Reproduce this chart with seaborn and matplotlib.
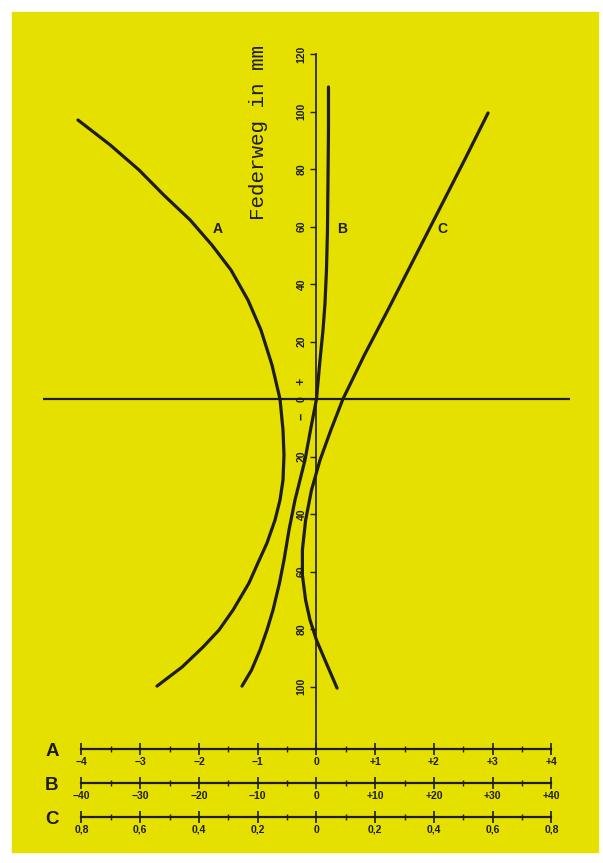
import numpy as np
import pandas as pd
import matplotlib
matplotlib.use("Agg")
import matplotlib.pyplot as plt
from matplotlib.patches import Rectangle
import seaborn as sns

# spring travel (mm) and the value of each curve
A_TRAVEL = [97.04, 88.35, 79.65, 70.96, 62.26, 53.57, 44.87, 34.43, 24.0, 11.83,
            0.0, -10.78, -19.48, -28.17, -35.13, -42.09, -50.09, -57.74, -64.0,
            -73.39, -80.35, -86.26, -93.22, -99.83]
A_VALUE = [-4.06, -3.51, -3.02, -2.60, -2.15, -1.78, -1.455, -1.166, -0.945, -0.757,
           -0.621, -0.570, -0.553, -0.570, -0.621, -0.706, -0.843, -1.013, -1.149,
           -1.421, -1.660, -1.932, -2.289, -2.715]

B_TRAVEL = [108.52, 93.57, 76.17, 58.78, 44.87, 33.39, 24.0, 13.57, 0.0, -10.78,
            -21.22, -35.13, -45.57, -56.0, -64.0, -73.39, -80.35, -87.3, -94.26,
            -99.83]
B_VALUE = [2.04, 2.04, 1.96, 1.87, 1.70, 1.45, 1.11, 0.60, 0.0, -1.02,
           -1.96, -3.66, -4.68, -5.53, -6.30, -7.40, -8.43, -9.62, -11.06,
           -12.68]

C_TRAVEL = [99.48, 83.13, 65.74, 48.35, 30.96, 15.30, 0.0, -10.78, -21.22, -31.65,
            -42.09, -52.52, -61.22, -69.91, -76.87, -83.83, -90.78, -100.52]
C_VALUE = [0.584, 0.504, 0.417, 0.330, 0.243, 0.163, 0.090, 0.049, 0.012, -0.017,
           -0.037, -0.048, -0.048, -0.037, -0.022, 0.0, 0.029, 0.070]

TRAVEL_TICKS = [120, 100, 80, 60, 40, 20, 0, -20, -40, -60, -80, -100]
TRAVEL_LABELS = ["120", "100", "80", "60", "40", "20", "0",
                 "20", "40", "60", "80", "100"]

SCALE_TICKS = [-4, -3, -2, -1, 0, 1, 2, 3, 4]
A_LABELS = ["\u22124", "\u22123", "\u22122", "\u22121", "0", "+1", "+2", "+3", "+4"]
B_LABELS = ["\u221240", "\u221230", "\u221220", "\u221210", "0", "+10", "+20", "+30", "+40"]
C_LABELS = ["0,8", "0,6", "0,4", "0,2", "0", "0,2", "0,4", "0,6", "0,8"]

YELLOW = "#e6e000"
INK = "#1d1d12"
W, H = 603, 863


def box(x0, y0, x1, y1):
    # pixel box -> figure fraction
    return [x0 / W, 1 - y1 / H, (x1 - x0) / W, (y1 - y0) / H]


def main():
    sns.set_style("white")
    plt.rcParams["font.family"] = ["Liberation Sans", "DejaVu Sans"]

    fig = plt.figure(figsize=(W / 100, H / 100), dpi=100)
    # yellow card behind everything
    bg = fig.add_axes([0, 0, 1, 1], zorder=-5)
    bg.set_axis_off()
    bg.set_xlim(0, W)
    bg.set_ylim(H, 0)
    bg.add_patch(Rectangle((12, 12), 586, 840, color=YELLOW))

    ax = fig.add_axes(box(43, 54, 570, 749))
    ax.patch.set_alpha(0)
    xlim = (-4.655, 4.315)

    # B and C drawn in the units of scale A
    curves = {
        "A": pd.DataFrame({"x": A_VALUE, "y": A_TRAVEL}),
        "B": pd.DataFrame({"x": np.array(B_VALUE) / 10, "y": B_TRAVEL}),
        "C": pd.DataFrame({"x": np.array(C_VALUE) / 0.2, "y": C_TRAVEL}),
    }
    for df in curves.values():
        sns.lineplot(data=df, x="x", y="y", sort=False, estimator=None,
                     color=INK, lw=2.3, ax=ax, solid_capstyle="round",
                     solid_joinstyle="round")

    ax.axhline(0, color=INK, lw=1.6)
    ax.set_xlim(*xlim)
    ax.set_ylim(-121.7, 120)
    for s in ["top", "right", "bottom"]:
        ax.spines[s].set_visible(False)
    ax.spines["left"].set_position(("data", 0))
    ax.spines["left"].set_color(INK)
    ax.spines["left"].set_linewidth(1.2)
    ax.set_xticks([])
    ax.set_yticks(TRAVEL_TICKS)
    ax.set_yticklabels(TRAVEL_LABELS, rotation=90, va="center", fontsize=7.5,
                       fontweight="bold")
    ax.tick_params(axis="y", direction="out", length=4, width=1, pad=3,
                   colors=INK, left=True)
    ax.set_xlabel("")
    ax.set_ylabel("")

    ax.text(-0.247, 6, "+", rotation=90, ha="center", va="center",
            fontsize=9, fontweight="bold", color=INK)
    ax.text(-0.247, -6, "\u2212", rotation=90, ha="center", va="center",
            fontsize=9, fontweight="bold", color=INK)
    ax.text(-0.98, 92.7, "Federweg in mm", rotation=90, ha="center", va="center",
            fontsize=15, family=["Liberation Mono", "DejaVu Sans Mono"], color=INK)

    for name, xpos in [("A", -1.68), ("B", 0.43), ("C", 2.15)]:
        ax.text(xpos, 59, name, ha="center", va="center", fontsize=10,
                fontweight="bold", color=INK)

    # the three reading scales below the chart
    for name, ypx, labels in [("A", 749, A_LABELS), ("B", 783, B_LABELS),
                              ("C", 817, C_LABELS)]:
        sax = fig.add_axes(box(43, ypx - 10, 570, ypx))
        sax.patch.set_alpha(0)
        sax.set_xlim(*xlim)
        for s in ["top", "right", "left"]:
            sax.spines[s].set_visible(False)
        sax.spines["bottom"].set_bounds(-4, 4)
        sax.spines["bottom"].set_linewidth(1.6)
        sax.spines["bottom"].set_color(INK)
        sax.set_yticks([])
        sax.set_xticks(SCALE_TICKS)
        sax.set_xticks(np.arange(-3.5, 4, 1), minor=True)
        sax.set_xticklabels(labels, fontsize=7.5, fontweight="bold", color=INK)
        sax.tick_params(axis="x", which="major", direction="inout", length=8,
                        width=1.2, pad=1.5, colors=INK, bottom=True)
        sax.tick_params(axis="x", which="minor", direction="inout", length=5,
                        width=1, colors=INK, bottom=True)
        fig.text(52 / W, 1 - (ypx + 2) / H, name, ha="center", va="center",
                 fontsize=13.5, fontweight="bold", color=INK)

    fig.savefig("out.png", dpi=100, facecolor="white")


if __name__ == "__main__":
    main()
